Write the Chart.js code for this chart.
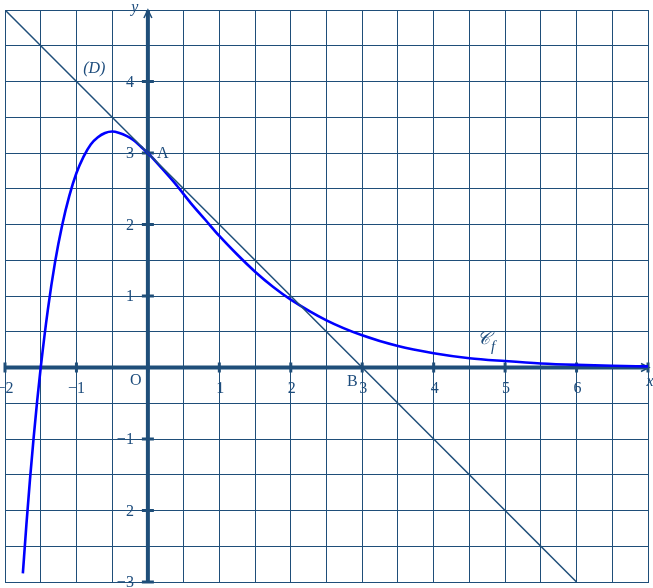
<!DOCTYPE html>
<html><head><meta charset="utf-8">
<script src="https://cdn.jsdelivr.net/npm/chart.js@4.4.1/dist/chart.umd.min.js"></script>
<style>html,body{margin:0;padding:0;background:#fff}#wrap{width:653px;height:588px}</style>
</head><body><div id="wrap"><canvas id="c" width="653" height="588"></canvas></div>
<script>
// Curve C_f : x values and y values
const curveX = [-1.75,-1.7,-1.65,-1.6,-1.55,-1.5,-1.4,-1.3,-1.2,-1.1,-1.0,-0.9,-0.8,-0.7,-0.6,-0.5,-0.4,-0.3,-0.2,-0.1,0,0.2,0.4,0.6,0.8,1.0,1.25,1.5,1.75,2.0,2.5,3.0,3.5,4.0,4.5,5.0,5.5,6.0,6.5,7.0];
const curveY = [-2.88,-2.19,-1.56,-0.99,-0.47,0,0.81,1.47,1.99,2.40,2.72,2.95,3.12,3.22,3.28,3.30,3.28,3.24,3.18,3.09,3,2.78,2.55,2.30,2.07,1.84,1.58,1.34,1.13,0.95,0.66,0.45,0.30,0.20,0.13,0.09,0.057,0.037,0.024,0.016];
// Line (D)
const lineX = [-2, 6];
const lineY = [5, -3];
// Tick labels
const xTicks = [-2,-1,1,2,3,4,5,6];
const yTicks = [-3,-2,-1,1,2,3,4];
// Point labels
const pointsA = {x:0, y:3, label:'A'};
const pointsB = {x:3, y:0, label:'B'};

const GRID = '#1f4e79';
const TXT = '#1d4c7c';

const toXY = (xs, ys) => xs.map((x,i)=>({x, y: ys[i]}));
const fmt = v => (v<0 ? '\u2212' + Math.abs(v) : String(v));

const overlay = {
  id:'overlay',
  beforeDatasetsDraw(chart){
    const {ctx, scales:{x, y}, chartArea:a} = chart;
    const x0 = x.getPixelForValue(0), y0 = y.getPixelForValue(0);
    ctx.save();
    ctx.strokeStyle = GRID; ctx.lineWidth = 4; ctx.lineCap='butt';
    ctx.beginPath(); ctx.moveTo(a.left, y0); ctx.lineTo(a.right+1, y0); ctx.stroke();
    ctx.beginPath(); ctx.moveTo(x0, a.bottom); ctx.lineTo(x0, a.top); ctx.stroke();
    // ticks
    ctx.lineWidth = 3;
    for (let v=-2; v<=7; v++){ const px=x.getPixelForValue(v); ctx.beginPath(); ctx.moveTo(px,y0-5); ctx.lineTo(px,y0+5); ctx.stroke(); }
    for (let v=-3; v<=4; v++){ const py=y.getPixelForValue(v); ctx.beginPath(); ctx.moveTo(x0-6,py); ctx.lineTo(x0+6,py); ctx.stroke(); }
    // arrows
    ctx.lineWidth = 1.5;
    ctx.beginPath(); ctx.moveTo(a.right-7, y0-4); ctx.lineTo(a.right+1, y0); ctx.lineTo(a.right-7, y0+4); ctx.stroke();
    ctx.beginPath(); ctx.moveTo(x0-4, a.top+8); ctx.lineTo(x0, a.top); ctx.lineTo(x0+4, a.top+8); ctx.stroke();
    ctx.restore();
  },
  afterDraw(chart){
    const {ctx, scales:{x, y}} = chart;
    const x0 = x.getPixelForValue(0), y0 = y.getPixelForValue(0);
    ctx.save();
    ctx.fillStyle = TXT;
    ctx.font = '16px "Liberation Serif"';
    ctx.textBaseline = 'middle';
    ctx.textAlign = 'center';
    xTicks.forEach(v => { ctx.fillText(fmt(v), x.getPixelForValue(v) + (v<0?0:1), y0 + 21); });
    ctx.textAlign = 'right';
    yTicks.forEach(v => { ctx.fillText(fmt(v), x0 - 14, y.getPixelForValue(v) + 1); });
    ctx.textAlign = 'center';
    ctx.fillText('O', x0 - 12, y0 + 13);
    ctx.textAlign = 'left';
    ctx.fillText(pointsA.label, x.getPixelForValue(pointsA.x) + 9, y.getPixelForValue(pointsA.y) + 1);
    ctx.textAlign = 'center';
    ctx.fillText(pointsB.label, x.getPixelForValue(pointsB.x) - 10, y.getPixelForValue(pointsB.y) + 14);
    ctx.font = 'italic 16px "Liberation Serif"';
    ctx.fillText('(D)', x.getPixelForValue(-0.75), y.getPixelForValue(4.18));
    ctx.fillText('x', x.getPixelForValue(7) + 2, y0 + 14);
    ctx.fillText('y', x0 - 13, y.getPixelForValue(5) - 2);
    ctx.font = 'italic 18px "DejaVu Serif"';
    ctx.fillText('\uD835\uDC9E', x.getPixelForValue(4.7), y.getPixelForValue(0.39));
    ctx.font = 'italic 15px "Liberation Serif"';
    ctx.fillText('f', x.getPixelForValue(4.83), y.getPixelForValue(0.29));
    ctx.restore();
  }
};

new Chart(document.getElementById('c'), {
  type:'scatter',
  data:{ datasets:[
    { data: toXY(lineX, lineY), showLine:true, borderColor:GRID, borderWidth:1.5, pointRadius:0, tension:0 },
    { data: toXY(curveX, curveY), showLine:true, borderColor:'#0000ff', borderWidth:2.6, pointRadius:0, cubicInterpolationMode:'monotone' }
  ]},
  options:{
    responsive:false, animation:false, devicePixelRatio:1,
    layout:{ padding:{ left:5, top:10, right:5, bottom:6 } },
    plugins:{ legend:{display:false}, tooltip:{enabled:false} },
    scales:{
      x:{ type:'linear', min:-2, max:7, ticks:{display:false, stepSize:0.5}, grid:{color:GRID, lineWidth:1, drawTicks:false}, border:{display:true, color:GRID, width:1} },
      y:{ type:'linear', min:-3, max:5, ticks:{display:false, stepSize:0.5}, grid:{color:GRID, lineWidth:1, drawTicks:false}, border:{display:true, color:GRID, width:1} }
    }
  },
  plugins:[overlay]
});
</script></body></html>
